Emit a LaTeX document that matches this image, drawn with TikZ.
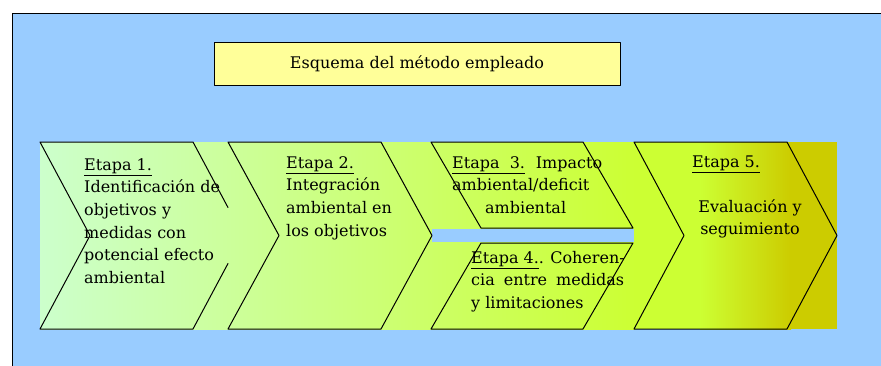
\documentclass[tikz,border=0pt]{standalone}
\usepackage{fontspec}
\setmainfont{DejaVu Serif}
\usepackage{tikz}

\definecolor{panelblue}{HTML}{99CCFF}
\definecolor{titleyellow}{HTML}{FFFF99}
\definecolor{mint}{HTML}{CCFFCC}
\definecolor{lime}{HTML}{CCFF66}
\definecolor{limebright}{HTML}{CCFF33}
\definecolor{oliveband}{HTML}{CCCC00}

\begin{document}
\begin{tikzpicture}[x=1pt, y=-1pt, line join=round, line cap=round]
  \tikzset{
    outline/.style={draw=black, line width=1pt},
    etapa/.style={font=\fontsize{16}{22.7}\selectfont, inner sep=0pt, anchor=base west},
  }
  \useasboundingbox (0,0) rectangle (881,365);

  % panel
  \draw[fill=panelblue, line width=1pt] (12,13) rectangle (895,380);

  % title
  \node[draw, fill=titleyellow, line width=1pt, minimum width=406pt, minimum height=43pt,
        font=\fontsize{16}{20}\selectfont] (title) at (417,63.5) {Esquema del método empleado};

  % band properties
  \def\bandtop{142}  % top of the band
  \def\bandbot{329}  % bottom of the band
  \def\bandmid{235.5}  % tips of the chevrons

  % gradient band
  \shade[left color=mint, right color=lime] (40,\bandtop) rectangle (433,\bandbot);
  \shade[left color=lime, right color=limebright] (432,\bandtop) rectangle (635,\bandbot);
  \fill[limebright] (634,\bandtop) rectangle (701,\bandbot);
  \shade[left color=limebright, right color=oliveband] (700,\bandtop) rectangle (791,\bandbot);
  \fill[oliveband] (790,\bandtop) rectangle (837,\bandbot);

  % gap between Etapa 3 and Etapa 4
  \fill[panelblue] (432,229) rectangle (634,242);

  % Etapa 1 (tip hidden by Etapa 2)
  \draw[outline] (228,207.5) -- (193,\bandtop) -- (40,\bandtop) -- (90,\bandmid)
    -- (40,\bandbot) -- (193,\bandbot) -- (228,263.5);
  % Etapa 2
  \draw[outline] (228,\bandtop) -- (381,\bandtop) -- (432,\bandmid) -- (381,\bandbot)
    -- (228,\bandbot) -- (279,\bandmid) -- cycle;
  % Etapa 3 and Etapa 4
  \draw[outline] (431,\bandtop) -- (583,\bandtop) -- (633,228) -- (481,228) -- cycle;
  \draw[outline] (481,243) -- (633,243) -- (583,\bandbot) -- (431,\bandbot) -- cycle;
  % Etapa 5
  \draw[outline] (634,\bandtop) -- (787,\bandtop) -- (837,\bandmid) -- (787,\bandbot)
    -- (634,\bandbot) -- (684,\bandmid) -- cycle;

  % labels
  \node[etapa] (e1) at (84,170) {\parbox[t]{150pt}{\raggedright\underline{Etapa 1.}\\
    Identificación de\\objetivos y\\medidas con\\potencial efecto\\ambiental}};
  \node[etapa] (e2) at (286,168) {\parbox[t]{150pt}{\raggedright\underline{Etapa 2.}\\
    Integración\\ambiental en\\los objetivos}};
  \node[etapa] (e3) at (452,168) {\parbox[t]{150pt}{%
    \makebox[150pt][s]{\underline{Etapa\ \ 3.}\ \ Impacto}\\
    ambiental/deficit\\\hspace*{33pt}ambiental}};
  \node[etapa] (e4) at (471,263) {\parbox[t]{153pt}{%
    \makebox[153pt][s]{\underline{Etapa 4.}. Coheren-}\\
    \makebox[153pt][s]{cia entre medidas}\\y limitaciones}};
  \node[etapa] (e5) at (692,167) {\underline{Etapa 5.}};
  \node[etapa, anchor=base] (e5text) at (750,212) {\parbox[t]{130pt}{\centering
    Evaluación y\\seguimiento}};

\end{tikzpicture}
\end{document}
